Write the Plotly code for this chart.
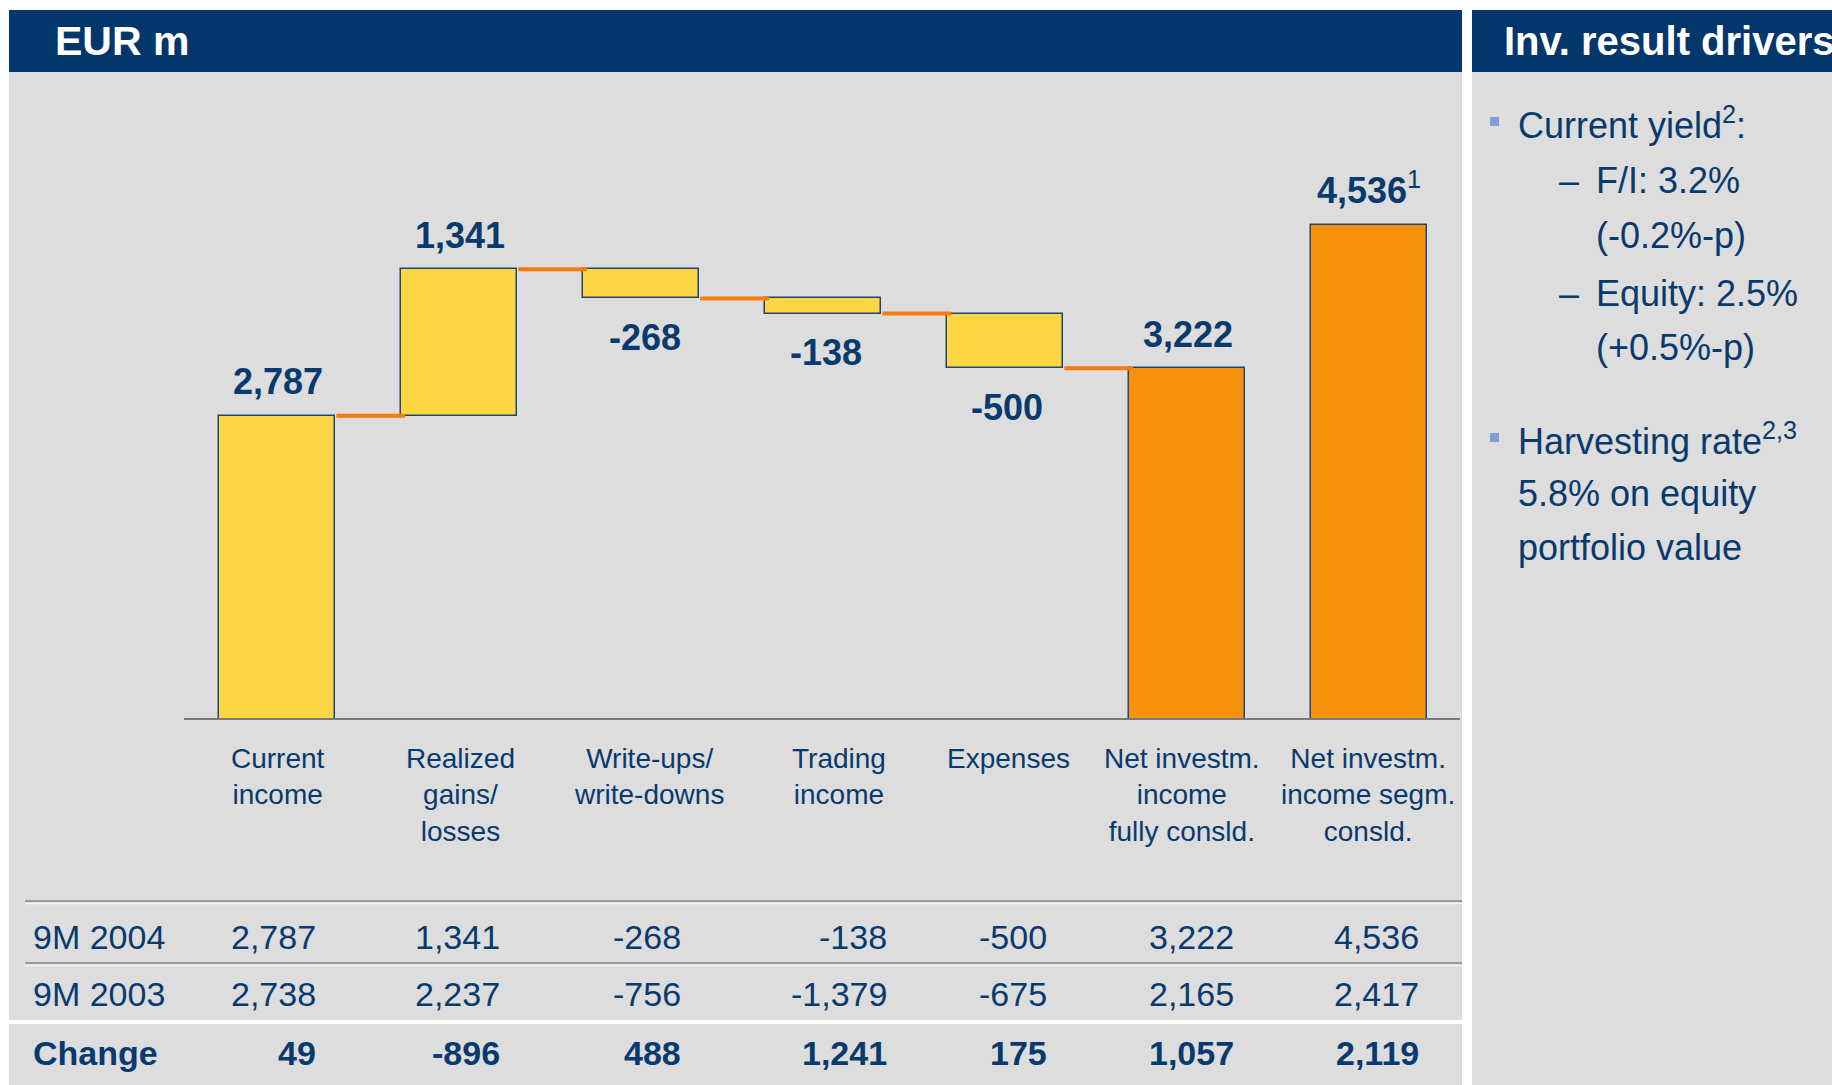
import plotly.graph_objects as go

# ---- data -------------------------------------------------------------
categories = [
    "Current<br>income",
    "Realized<br>gains/<br>losses",
    "Write-ups/<br>write-downs",
    "Trading<br>income",
    "Expenses",
    "Net investm.<br>income<br>fully consld.",
    "Net investm.<br>income segm.<br>consld.",
]
values_9m2004 = [2787, 1341, -268, -138, -500, 3222, 4536]
values_9m2003 = [2738, 2237, -756, -1379, -675, 2165, 2417]
change = [49, -896, 488, 1241, 175, 1057, 2119]
measures = ["relative", "relative", "relative", "relative", "relative", "total", "absolute"]
footnote_marks = ["", "", "", "", "", "", "1"]
row_labels = ["9M 2004", "9M 2003", "Change"]

drivers = [
    ("bullet", "Current yield<sup>2</sup>:"),
    ("dash", "F/I: 3.2%"),
    ("cont", "(-0.2%-p)"),
    ("dash", "Equity: 2.5%"),
    ("cont", "(+0.5%-p)"),
    ("bullet", "Harvesting rate<sup>2,3</sup>"),
    ("plain", "5.8% on equity"),
    ("plain", "portfolio value"),
]

# ---- styling ----------------------------------------------------------
W, H = 1832, 1085
NAVY = "#03376B"
TEXT = "#083A6E"
PANEL = "#DDDDDD"
YELLOW = "#FED643"
ORANGE = "#F8920E"
CONNECT = "#FA7A0A"
FONT = "Liberation Sans, Arial, sans-serif"
BAR_W = 0.632
# small horizontal nudges (px) for the category captions and value labels
caption_shift = [1, 1, 8, 16, 3, -5, -1]
value_shift = [1, 1, 4, 3, 2, 1, 0]


def px(x):
    return x / W


def py(y):
    return 1 - y / H


# ---- waterfall geometry from the values -------------------------------
bases, heights, colors, label_y, label_shift, levels = [], [], [], [], [], []
running = 0
for v, m in zip(values_9m2004, measures):
    if m == "relative":
        start = running
        running += v
        bases.append(min(start, running))
        heights.append(abs(v))
        colors.append(YELLOW)
        label_y.append(running)
        label_shift.append(34 if v >= 0 else -39)
    elif m == "total":
        bases.append(0)
        heights.append(running)
        colors.append(ORANGE)
        label_y.append(running)
        label_shift.append(34)
    else:
        bases.append(0)
        heights.append(v)
        colors.append(ORANGE)
        label_y.append(v)
        label_shift.append(37)
    levels.append(running)

xs = list(range(len(categories)))

fig = go.Figure()

fig.add_trace(go.Bar(
    x=xs, y=heights, base=bases, width=BAR_W,
    marker=dict(color=colors, line=dict(color="#1F4573", width=1.5)),
    hoverinfo="skip", showlegend=False,
))

# connectors between consecutive steps up to the consolidated total
cx, cy = [], []
for i in range(len(measures) - 1):
    if measures[i + 1] == "absolute":
        continue
    cx += [xs[i] + BAR_W / 2 + 0.01, xs[i + 1] - BAR_W / 2 + 0.02, None]
    cy += [levels[i], levels[i], None]
fig.add_trace(go.Scatter(
    x=cx, y=cy, mode="lines", line=dict(color=CONNECT, width=4),
    hoverinfo="skip", showlegend=False,
))

annotations = []

# value labels above/below bars
for i, v in enumerate(values_9m2004):
    txt = f"{v:,}"
    if footnote_marks[i]:
        txt += f"<sup><span style='font-weight:normal'>{footnote_marks[i]}</span></sup>"
    annotations.append(dict(
        x=xs[i], y=label_y[i], xref="x", yref="y", text=txt, showarrow=False,
        yshift=label_shift[i], xshift=value_shift[i], xanchor="center", yanchor="middle",
        font=dict(family=FONT, size=36, color=TEXT, weight="bold"),
    ))

# category labels under the baseline
for i, c in enumerate(categories):
    annotations.append(dict(
        x=xs[i], y=py(741), xref="x", yref="paper", text=c, showarrow=False,
        xshift=caption_shift[i], xanchor="center", yanchor="top", align="center",
        font=dict(family=FONT, size=28, color=TEXT),
    ))

# table
col_right = [318, 502, 683, 889, 1049, 1236, 1421]
row_y = [937, 994, 1053]
rows = [values_9m2004, values_9m2003, change]
for r, (lab, vals) in enumerate(zip(row_labels, rows)):
    bold = r == 2
    f = dict(family=FONT, size=34, color=TEXT, weight="bold" if bold else "normal")
    annotations.append(dict(
        x=px(31), y=py(row_y[r]), xref="paper", yref="paper", text=lab,
        showarrow=False, xanchor="left", yanchor="middle", font=f,
    ))
    for c, v in enumerate(vals):
        annotations.append(dict(
            x=px(col_right[c]), y=py(row_y[r]), xref="paper", yref="paper",
            text=f"{v:,}", showarrow=False, xanchor="right", yanchor="middle", font=f,
        ))

# panel headers
annotations.append(dict(
    x=px(53), y=py(41), xref="paper", yref="paper", text="<b>EUR m</b>",
    showarrow=False, xanchor="left", yanchor="middle",
    font=dict(family=FONT, size=41, color="white"),
))
annotations.append(dict(
    x=px(1502), y=py(41), xref="paper", yref="paper", text="<b>Inv. result drivers</b>",
    showarrow=False, xanchor="left", yanchor="middle",
    font=dict(family=FONT, size=40, color="white"),
))

# driver bullet list
shapes = []
line_y = [123, 181, 235, 293, 347, 439, 493, 547]
for (kind, txt), yy in zip(drivers, line_y):
    tx = 1516 if kind in ("bullet", "plain") else 1594
    annotations.append(dict(
        x=px(tx), y=py(yy), xref="paper", yref="paper", text=txt,
        showarrow=False, xanchor="left", yanchor="middle",
        font=dict(family=FONT, size=36, color=TEXT),
    ))
    if kind == "dash":
        annotations.append(dict(
            x=px(1557), y=py(yy), xref="paper", yref="paper", text="–",
            showarrow=False, xanchor="left", yanchor="middle",
            font=dict(family=FONT, size=36, color=TEXT),
        ))
    if kind == "bullet":
        shapes.append(dict(
            type="rect", xref="paper", yref="paper",
            x0=px(1490), x1=px(1499), y0=py(yy - 6), y1=py(yy + 3),
            fillcolor="#7F9FD4", line=dict(width=0), layer="above",
        ))

# panels and header bands
for x0, x1 in [(9, 1462), (1472, W)]:
    shapes.append(dict(type="rect", xref="paper", yref="paper",
                       x0=px(x0), x1=px(x1), y0=py(H), y1=py(72),
                       fillcolor=PANEL, line=dict(width=0), layer="below"))
    shapes.append(dict(type="rect", xref="paper", yref="paper",
                       x0=px(x0), x1=px(x1), y0=py(72), y1=py(10),
                       fillcolor=NAVY, line=dict(width=0), layer="below"))

# table rules (grey line with white highlight underneath)
for yy in (901, 963):
    shapes.append(dict(type="line", xref="paper", yref="paper",
                       x0=px(25), x1=px(1462), y0=py(yy), y1=py(yy),
                       line=dict(color="#9A9A9A", width=2), layer="below"))
    shapes.append(dict(type="line", xref="paper", yref="paper",
                       x0=px(25), x1=px(1462), y0=py(yy + 2.5), y1=py(yy + 2.5),
                       line=dict(color="#F4F4F4", width=1.5), layer="below"))
shapes.append(dict(type="line", xref="paper", yref="paper",
                   x0=px(9), x1=px(1462), y0=py(1022), y1=py(1022),
                   line=dict(color="white", width=4), layer="below"))

# baseline
shapes.append(dict(type="line", xref="x", yref="y", x0=-0.511, x1=6.5, y0=0, y1=0,
                   line=dict(color="#7A7A7A", width=4), layer="above"))

fig.update_layout(
    width=W, height=H,
    margin=dict(l=0, r=0, t=0, b=0),
    paper_bgcolor="white",
    plot_bgcolor="rgba(0,0,0,0)",
    showlegend=False,
    xaxis=dict(domain=[px(184), px(1460)], range=[-0.511, 6.5], visible=False, fixedrange=True),
    yaxis=dict(domain=[py(720), py(100)], range=[0, 620 / 0.1092], visible=False, fixedrange=True),
    annotations=annotations,
    shapes=shapes,
    bargap=0,
)

fig.write_html("out.html")
